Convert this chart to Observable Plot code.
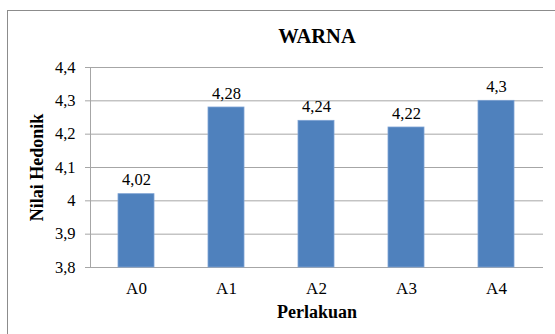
<!DOCTYPE html>
<html>
<head>
<meta charset="utf-8">
<script src="https://cdn.jsdelivr.net/npm/d3@7"></script>
<script src="https://cdn.jsdelivr.net/npm/@observablehq/plot@0.6"></script>
<style>
  html, body { margin: 0; padding: 0; background: #fff; }
  #wrap { position: relative; width: 555px; height: 334px; overflow: hidden; }
  #border { position: absolute; left: 7px; top: 10px; width: 600px; height: 400px;
            border-left: 1px solid #8c8c8c; border-top: 1px solid #8c8c8c; pointer-events: none; }
  svg { display: block; }
  svg text { font-family: "Liberation Serif", "Times New Roman", serif !important; }
</style>
</head>
<body>
<div id="wrap"><div id="border"></div><div id="chart"></div></div>
<script>
const title = "WARNA";
const xLabel = "Perlakuan";
const yLabel = "Nilai Hedonik";
const categories = ["A0", "A1", "A2", "A3", "A4"];
const values = [4.02, 4.28, 4.24, 4.22, 4.3];
const yTicks = [3.8, 3.9, 4, 4.1, 4.2, 4.3, 4.4];

const fmt = d => String(+d.toFixed(2)).replace(".", ",");
const data = categories.map((c, i) => ({cat: c, value: values[i]}));
const font = "Liberation Serif";

const chart = Plot.plot({
  width: 555,
  height: 334,
  marginTop: 67,
  marginBottom: 67,
  marginLeft: 90,
  marginRight: 12,
  style: {fontFamily: font, fontSize: "16px", color: "#000", background: "transparent"},
  x: {domain: categories, paddingInner: 0.6, paddingOuter: 0.3, label: null},
  y: {domain: [3.8, 4.4], label: null},
  marks: [
    Plot.gridY(yTicks, {stroke: "#a6a6a6", strokeOpacity: 1, strokeWidth: 1}),
    Plot.frame({anchor: "left", stroke: "#a6a6a6", strokeOpacity: 1}),
    Plot.axisY(yTicks, {tickFormat: fmt, tickSize: 5, tickPadding: 10, stroke: "#a6a6a6", fill: "#000", fontSize: 16.5, fontFamily: font, label: null}),
    Plot.axisX({tickSize: 0, tickPadding: 14, fontSize: 17, fontFamily: font, fill: "#000", label: null}),
    Plot.barY(data, {x: "cat", y1: 3.8, y2: "value", fill: "#4f81bd", stroke: "#7ea3d4", strokeWidth: 0.8}),
    Plot.text(data, {x: "cat", y: "value", text: d => fmt(d.value), lineAnchor: "bottom", dy: -9, fontSize: 16.5, fontFamily: font, fill: "#000"}),
    Plot.text([title], {frameAnchor: "top", textAnchor: "middle", lineAnchor: "middle", dy: -31, fontSize: 20.5, fontFamily: font, fontWeight: "bold", fill: "#000"}),
    Plot.text([xLabel], {frameAnchor: "bottom", textAnchor: "middle", lineAnchor: "middle", dy: 45, fontSize: 18, fontFamily: font, fontWeight: "bold", fill: "#000"}),
    Plot.text([yLabel], {frameAnchor: "left", textAnchor: "middle", lineAnchor: "middle", dx: -53, rotate: -90, fontSize: 18, fontFamily: font, fontWeight: "bold", fill: "#000"})
  ]
});
document.getElementById("chart").appendChild(chart);
</script>
</body>
</html>
